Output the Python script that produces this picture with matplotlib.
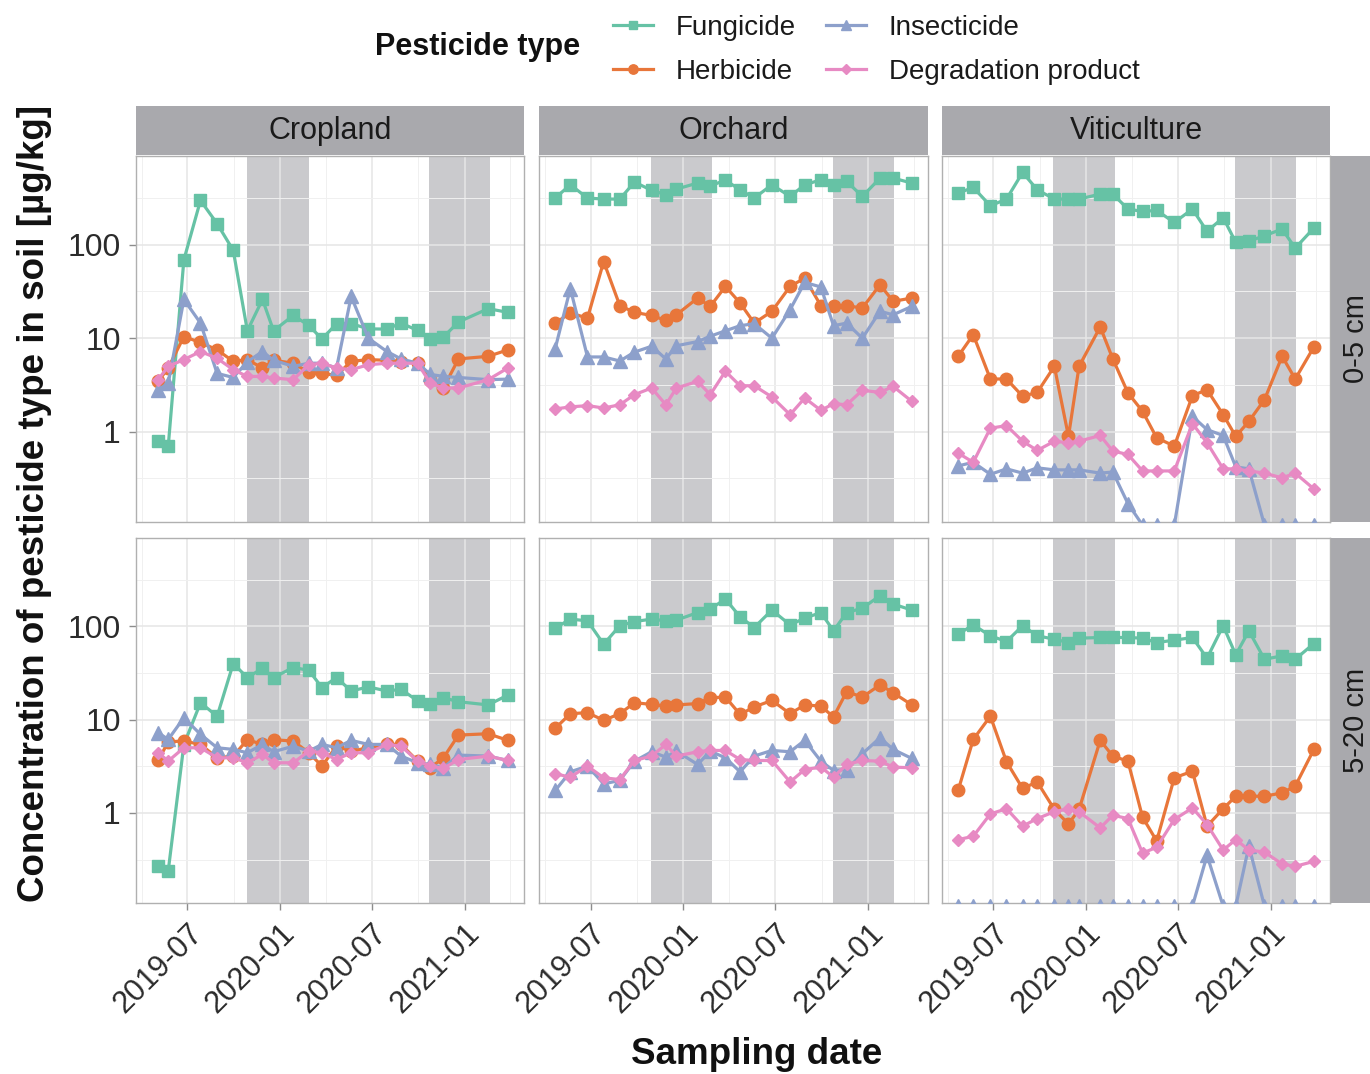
import matplotlib
matplotlib.use("Agg")
import matplotlib.pyplot as plt
import matplotlib.dates as mdates
from matplotlib.lines import Line2D
from matplotlib.ticker import FixedLocator, NullFormatter
import pandas as pd

plt.rcParams['font.family'] = ['Liberation Sans', 'DejaVu Sans']

# ---------------- data ----------------
land_uses = ["Cropland", "Orchard", "Viticulture"]
depths = ["0-5 cm", "5-20 cm"]
types = ["Fungicide", "Herbicide", "Insecticide", "Degradation product"]

dates_cropland = pd.to_datetime([
    "2019-05-04", "2019-05-24", "2019-06-24", "2019-07-27", "2019-08-29", "2019-09-30",
    "2019-10-28", "2019-11-27", "2019-12-19", "2020-01-27", "2020-02-27", "2020-03-24",
    "2020-04-22", "2020-05-21", "2020-06-24", "2020-07-31", "2020-08-28", "2020-09-30",
    "2020-10-25", "2020-11-20", "2020-12-20", "2021-02-17", "2021-03-28"])
dates_other = pd.to_datetime([
    "2019-04-22", "2019-05-22", "2019-06-25", "2019-07-27", "2019-08-28", "2019-09-26",
    "2019-10-30", "2019-11-27", "2019-12-18", "2020-01-29", "2020-02-23", "2020-03-24",
    "2020-04-22", "2020-05-20", "2020-06-24", "2020-07-30", "2020-08-28", "2020-09-29",
    "2020-10-24", "2020-11-19", "2020-12-20", "2021-01-24", "2021-02-19", "2021-03-28"])

winter_start = pd.to_datetime(["2019-10-28", "2020-10-22"])
winter_end = pd.to_datetime(["2020-02-27", "2021-02-21"])

# Cropland 0-5 cm
crop_top_fung = [0.80, 0.70, 69, 298, 168, 87, 12, 26, 12, 17.5, 13.7, 9.8, 14.3, 14.3, 12.6, 12.5, 14.5, 12.1, 9.8, 10.3, 14.9, 20.7, 18.9]
crop_top_herb = [3.45, 4.8, 10.4, 9.0, 7.5, 5.65, 5.9, 4.8, 5.8, 5.4, 4.3, 4.2, 4.0, 5.65, 5.9, 5.8, 5.6, 5.4, 3.6, 2.93, 6.0, 6.4, 7.5]
crop_top_insc = [2.8, 3.3, 26, 14.5, 4.2, 3.8, 5.6, 7.2, 5.8, 5.0, 5.4, 5.4, 4.8, 28, 10, 7.2, 6.0, 5.4, 4.1, 3.9, 3.8, 3.6, 3.65]
crop_top_degr = [3.6, 5.0, 5.9, 7.2, 6.1, 4.6, 3.9, 3.9, 3.75, 3.6, 5.2, 5.4, 4.8, 4.6, 5.2, 5.4, 5.4, 5.4, 3.3, 2.93, 2.93, 3.6, 4.8]
# Cropland 5-20 cm
crop_bot_fung = [0.27, 0.24, 5.4, 15.2, 10.9, 40, 28.3, 35.6, 28.3, 36.3, 33.9, 22.1, 28.3, 20.3, 22.5, 20.3, 21.2, 15.9, 14.6, 17.2, 15.6, 14.4, 18.4]
crop_bot_herb = [3.65, 5.8, 5.9, 5.43, 3.9, 4.07, 6.1, 5.43, 6.1, 5.9, 4.42, 3.18, 5.2, 4.6, 5.0, 5.43, 5.43, 3.6, 3.05, 3.9, 6.84, 7.07, 6.0]
crop_bot_insc = [7.25, 6.14, 10.5, 6.96, 5.0, 4.8, 4.42, 5.43, 4.53, 5.2, 4.6, 5.43, 5.0, 6.0, 5.43, 5.43, 4.07, 3.45, 3.31, 3.05, 4.17, 4.07, 3.65]
crop_bot_degr = [4.42, 3.6, 5.0, 5.0, 3.9, 3.9, 3.45, 4.24, 3.45, 3.45, 4.6, 4.42, 3.74, 4.42, 4.42, 5.43, 5.2, 3.6, 3.18, 3.0, 3.74, 4.07, 3.65]
# Orchard 0-5 cm
orch_top_fung = [316, 438, 316, 308, 308, 468, 382, 343, 394, 457, 427, 490, 387, 316, 438, 329, 438, 495, 438, 476, 329, 516, 516, 457]
orch_top_herb = [14.5, 18.6, 16.4, 66, 22.3, 18.9, 17.5, 15.5, 17.8, 26.9, 21.9, 35.8, 23.8, 14.5, 19.4, 35.8, 44, 22.3, 22.3, 22.3, 21, 37.3, 24.8, 26.9]
orch_top_insc = [7.7, 34, 6.3, 6.3, 5.7, 7.1, 8.2, 6.0, 8.3, 9.2, 10.5, 12.0, 13.6, 14.3, 10.0, 20.2, 39.5, 35.3, 13.6, 14.5, 10.0, 19.4, 17.8, 21.9]
orch_top_degr = [1.75, 1.84, 1.90, 1.79, 1.94, 2.49, 2.93, 1.94, 2.93, 3.45, 2.49, 4.42, 3.1, 3.1, 2.35, 1.52, 2.29, 1.69, 1.99, 1.94, 2.77, 2.63, 3.05, 2.11]
# Orchard 5-20 cm
orch_bot_fung = [96, 120, 115, 64.6, 102, 113, 120, 115, 117, 141, 154, 197, 127, 97.5, 150, 104, 123, 141, 89.8, 141, 157, 214, 174, 150]
orch_bot_herb = [8.07, 11.6, 11.9, 9.84, 11.6, 15.2, 14.6, 14.0, 14.4, 14.9, 17.2, 17.5, 11.4, 13.7, 16.1, 11.6, 14.4, 14.0, 10.7, 20.0, 17.5, 23.6, 19.5, 14.4]
orch_bot_insc = [1.74, 2.76, 3.18, 2.05, 2.23, 3.59, 4.53, 3.97, 4.6, 3.31, 4.6, 3.9, 2.76, 4.07, 4.68, 4.53, 6.0, 3.59, 2.85, 2.92, 4.31, 6.4, 4.8, 3.84]
orch_bot_degr = [2.63, 2.42, 3.18, 2.38, 2.28, 3.65, 4.07, 5.43, 4.07, 4.53, 4.68, 4.68, 3.74, 3.65, 3.65, 2.15, 2.92, 3.1, 2.42, 3.31, 3.65, 3.59, 3.1, 3.05]
# Viticulture 0-5 cm
viti_top_fung = [357, 410, 261, 308, 594, 387, 308, 308, 308, 348, 348, 241, 227, 233, 173, 241, 139, 195, 106, 109, 125, 147, 92, 151]
viti_top_herb = [6.4, 10.9, 3.66, 3.66, 2.39, 2.63, 5.0, 0.89, 5.0, 13.2, 6.0, 2.6, 1.65, 0.86, 0.70, 2.43, 2.81, 1.52, 0.89, 1.29, 2.2, 6.4, 3.66, 8.05]
viti_top_insc = [0.43, 0.47, 0.35, 0.40, 0.36, 0.41, 0.39, 0.39, 0.39, 0.36, 0.37, 0.17, 0.1, 0.1, 0.1, 1.46, 1.05, 0.91, 0.42, 0.40, 0.1, 0.1, 0.1, 0.1]
viti_top_degr = [0.59, 0.47, 1.09, 1.16, 0.79, 0.63, 0.79, 0.76, 0.79, 0.91, 0.62, 0.57, 0.38, 0.38, 0.38, 1.22, 0.76, 0.40, 0.40, 0.38, 0.36, 0.32, 0.36, 0.244]
# Viticulture 5-20 cm
viti_bot_fung = [82.7, 104, 79.4, 69, 102, 79.4, 73.1, 67.3, 74.9, 76.2, 76.2, 76.2, 74.9, 67.3, 71.3, 76.2, 45.7, 102, 49.6, 89.8, 44.5, 48.4, 44.5, 65.6]
viti_bot_herb = [1.74, 6.14, 10.9, 3.54, 1.83, 2.15, 1.09, 0.76, 1.09, 6.0, 4.07, 3.59, 0.90, 0.50, 2.38, 2.8, 0.72, 1.11, 1.51, 1.51, 1.51, 1.64, 1.94, 4.8]
viti_bot_insc = [0.1, 0.1, 0.1, 0.1, 0.1, 0.1, 0.1, 0.1, 0.1, 0.1, 0.1, 0.1, 0.1, 0.1, 0.1, 0.1, 0.35, 0.1, 0.1, 0.44, 0.1, 0.1, 0.1, 0.1]
viti_bot_degr = [0.517, 0.561, 0.975, 1.11, 0.72, 0.87, 1.03, 1.11, 1.03, 0.69, 0.944, 0.87, 0.371, 0.427, 0.85, 1.13, 0.75, 0.40, 0.517, 0.40, 0.38, 0.283, 0.267, 0.302]

y_ticks = [1, 10, 100]
y_tick_labels = ["1", "10", "100"]
y_minor = [0.316, 3.16, 31.6, 316]
x_ticks = pd.to_datetime(["2019-07-01", "2020-01-01", "2020-07-01", "2021-01-01"])
x_tick_labels = ["2019-07", "2020-01", "2020-07", "2021-01"]
x_minor = pd.to_datetime(["2019-04-01", "2019-10-01", "2020-04-01", "2020-10-01", "2021-04-01"])
x_limits = pd.to_datetime(["2019-03-21", "2021-04-29"])
y_limits = (0.108, 890)

# ---------------- assemble ----------------
series = {
    ("Cropland", "0-5 cm"): [crop_top_fung, crop_top_herb, crop_top_insc, crop_top_degr],
    ("Cropland", "5-20 cm"): [crop_bot_fung, crop_bot_herb, crop_bot_insc, crop_bot_degr],
    ("Orchard", "0-5 cm"): [orch_top_fung, orch_top_herb, orch_top_insc, orch_top_degr],
    ("Orchard", "5-20 cm"): [orch_bot_fung, orch_bot_herb, orch_bot_insc, orch_bot_degr],
    ("Viticulture", "0-5 cm"): [viti_top_fung, viti_top_herb, viti_top_insc, viti_top_degr],
    ("Viticulture", "5-20 cm"): [viti_bot_fung, viti_bot_herb, viti_bot_insc, viti_bot_degr],
}
dates_for = {"Cropland": dates_cropland, "Orchard": dates_other, "Viticulture": dates_other}

colors = {"Fungicide": "#66c2a5", "Herbicide": "#e8763a",
          "Insecticide": "#8da0cb", "Degradation product": "#e78ac3"}
markers = {"Fungicide": "s", "Herbicide": "o", "Insecticide": "^", "Degradation product": "D"}
msizes = {"Fungicide": 8.5, "Herbicide": 9, "Insecticide": 10, "Degradation product": 6.5}

W, H = 1370, 1074
fig = plt.figure(figsize=(W / 100, H / 100), dpi=100)

def rect(x0, x1, y0, y1):
    return [x0 / W, 1 - y1 / H, (x1 - x0) / W, (y1 - y0) / H]

col_x = [(136, 524), (539, 928), (942, 1330)]
row_y = [(156, 522), (538, 903)]
strip_col = "#a9a9ad"
shade_col = "#cacacd"
border_col = "#b0b0b0"
text_col = "#1a1a1a"

for r, depth in enumerate(depths):
    for c, lu in enumerate(land_uses):
        ax = fig.add_axes(rect(col_x[c][0], col_x[c][1], row_y[r][0], row_y[r][1]))
        ax.set_yscale("log")
        ax.set_xlim(x_limits[0], x_limits[1])
        ax.set_ylim(*y_limits)
        ax.set_yticks(y_ticks)
        ax.yaxis.set_minor_locator(FixedLocator(y_minor))
        ax.yaxis.set_minor_formatter(NullFormatter())
        ax.set_xticks(x_ticks)
        ax.xaxis.set_minor_locator(FixedLocator(mdates.date2num(x_minor)))
        ax.grid(True, which="major", color="#e6e6e6", lw=1.1, zorder=0)
        ax.grid(True, which="minor", color="#f0f0f0", lw=0.7, zorder=0)
        ax.set_axisbelow(True)
        for s, e in zip(winter_start, winter_end):
            ax.axvspan(s, e, color=shade_col, lw=0, zorder=0.5)
        for t, vals in zip(types, series[(lu, depth)]):
            ax.plot(dates_for[lu], vals, color=colors[t], marker=markers[t],
                    ms=msizes[t], lw=2.3, zorder=3, clip_on=True)
        for sp in ax.spines.values():
            sp.set_color(border_col)
            sp.set_linewidth(1.0)
        ax.tick_params(which="minor", length=0)
        ax.tick_params(which="major", length=5, width=1, color="#8c8c8c",
                       labelsize=23, labelcolor="#2b2b2b", pad=6)
        if c == 0:
            ax.set_yticklabels(y_tick_labels)
        else:
            ax.tick_params(axis="y", labelleft=False, length=0)
        if r == 1:
            ax.set_xticklabels(x_tick_labels, rotation=45, ha="right",
                               rotation_mode="anchor", fontsize=22)
        else:
            ax.tick_params(axis="x", labelbottom=False, length=0)

        if r == 0:
            sax = fig.add_axes(rect(col_x[c][0], col_x[c][1], 106, 155))
            sax.set_facecolor(strip_col)
            sax.set_xticks([]); sax.set_yticks([])
            for sp in sax.spines.values():
                sp.set_visible(False)
            sax.text(0.5, 0.48, lu, ha="center", va="center", fontsize=22,
                     color=text_col, transform=sax.transAxes)
        if c == 2:
            sax = fig.add_axes(rect(1331, 1372, row_y[r][0], row_y[r][1]))
            sax.set_facecolor(strip_col)
            sax.set_xticks([]); sax.set_yticks([])
            for sp in sax.spines.values():
                sp.set_visible(False)
            sax.text(0.6, 0.5, depth, ha="center", va="center", fontsize=21,
                     rotation=90, color=text_col, transform=sax.transAxes)

# axis titles
fig.text(35 / W, 1 - 503 / H, "Concentration of pesticide type in soil [µg/kg]",
         rotation=90, ha="center", va="center", fontsize=26.5, fontweight="bold", color="#111111")
fig.text(757 / W, 1 - 1055 / H, "Sampling date", ha="center", va="center",
         fontsize=26.5, fontweight="bold", color="#111111")

# legend
fig.text(375 / W, 1 - 47 / H, "Pesticide type", ha="left", va="center",
         fontsize=22, fontweight="bold", color="#111111")
handles = [Line2D([], [], color=colors[t], marker=markers[t], ms=msizes[t] * 0.75, lw=2.3)
           for t in types]
leg = fig.legend(handles, types, ncol=2, loc="center left",
                 bbox_to_anchor=(588 / W, 1 - 50 / H), frameon=False, fontsize=20,
                 handlelength=1.45, handletextpad=0.8, columnspacing=1.1, labelspacing=0.65)
for txt in leg.get_texts():
    txt.set_color("#1a1a1a")

fig.savefig("out.png", dpi=100)
